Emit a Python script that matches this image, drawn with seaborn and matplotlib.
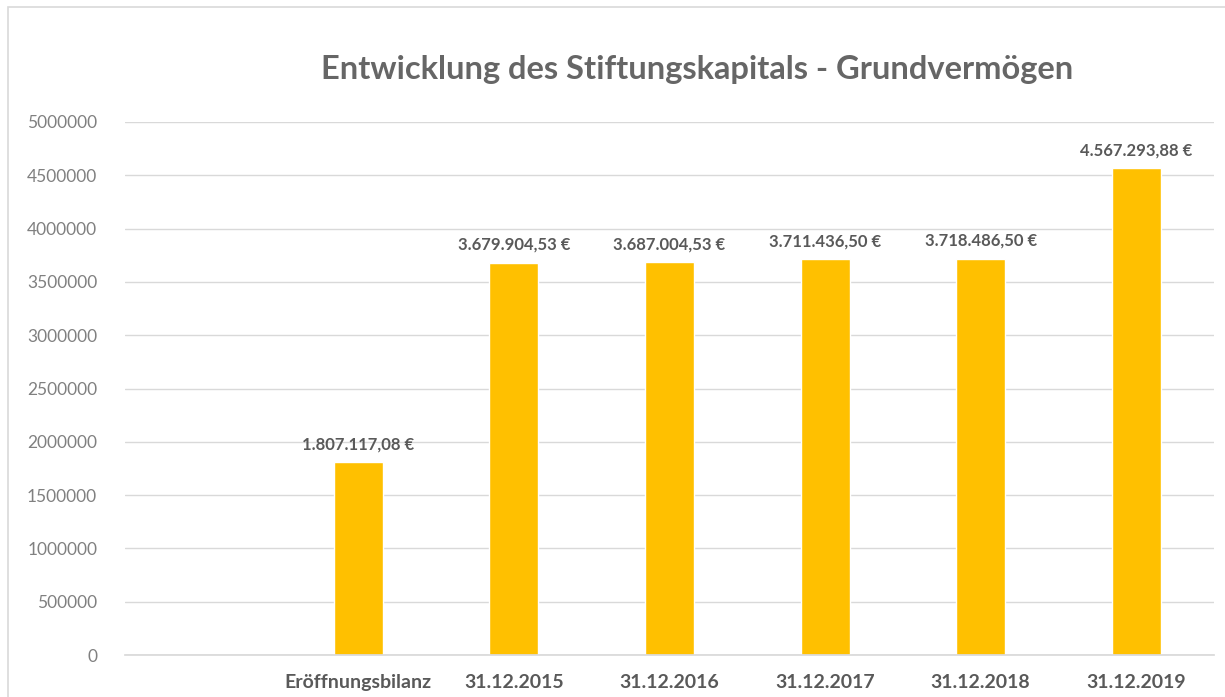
import numpy as np
import pandas as pd
import matplotlib.pyplot as plt
import matplotlib.patches as mpatches
import seaborn as sns

# data
categories = ["", "Eröffnungsbilanz", "31.12.2015", "31.12.2016",
              "31.12.2017", "31.12.2018", "31.12.2019"]
values = [np.nan, 1807117.08, 3679904.53, 3687004.53,
          3711436.50, 3718486.50, 4567293.88]
yticks = list(range(0, 5000001, 500000))

df = pd.DataFrame({"stichtag": categories, "kapital": values})

sns.set_theme(style="white")
plt.rcParams["font.family"] = ["Lato", "DejaVu Sans"]

fig = plt.figure(figsize=(12.25, 6.97), dpi=100)
ax = fig.add_axes([125 / 1225, 1 - 655 / 697, (1214 - 125) / 1225, (655 - 122) / 697])

sns.barplot(data=df, x="stichtag", y="kapital", order=categories,
            color="#FFC000", saturation=1, width=0.315, ax=ax, zorder=3)

# german number format for the labels
def euro(v):
    s = f"{v:,.2f}".replace(",", "X").replace(".", ",").replace("X", ".")
    return s + " €"

for bar in ax.patches:
    h = bar.get_height()
    if np.isnan(h) or h == 0:
        continue
    ax.annotate(euro(h), (bar.get_x() + bar.get_width() / 2, h),
                xytext=(0, 7), textcoords="offset points", ha="center", va="bottom",
                fontsize=12, fontweight="bold", color="#595959")

ax.set_xlim(-0.5, len(categories) - 0.5)
ax.set_ylim(0, 5000000)
ax.set_yticks(yticks)
ax.set_yticklabels([str(t) for t in yticks])
ax.yaxis.grid(True, color="#d9d9d9", linewidth=1)
ax.set_axisbelow(True)
ax.set_xlabel("")
ax.set_ylabel("")

ax.tick_params(axis="y", length=0, pad=20, labelsize=12.5, labelcolor="#808080")
ax.tick_params(axis="x", which="major", length=0, pad=14, labelsize=14,
               labelcolor="#595959")
for lbl in ax.get_xticklabels():
    lbl.set_fontweight("bold")
ax.set_xticks(np.arange(-0.5, len(categories)), minor=True)
ax.tick_params(axis="x", which="minor", length=7, color="#d9d9d9", width=1,
               direction="out")

for side in ["left", "right", "top"]:
    ax.spines[side].set_visible(False)
ax.spines["bottom"].set_color("#d9d9d9")
ax.spines["bottom"].set_zorder(4)

fig.text(697 / 1225, 1 - 70 / 697, "Entwicklung des Stiftungskapitals - Grundvermögen",
         ha="center", va="center", fontsize=23.5, fontweight="bold", color="#666666")

# outer chart frame
fig.patches.append(mpatches.Rectangle((8 / 1225, -0.05), 1.2, 1 - 7 / 697 + 0.05,
                                      transform=fig.transFigure, fill=False,
                                      edgecolor="#d9d9d9", linewidth=1.2))

fig.savefig("out.png", dpi=100)
